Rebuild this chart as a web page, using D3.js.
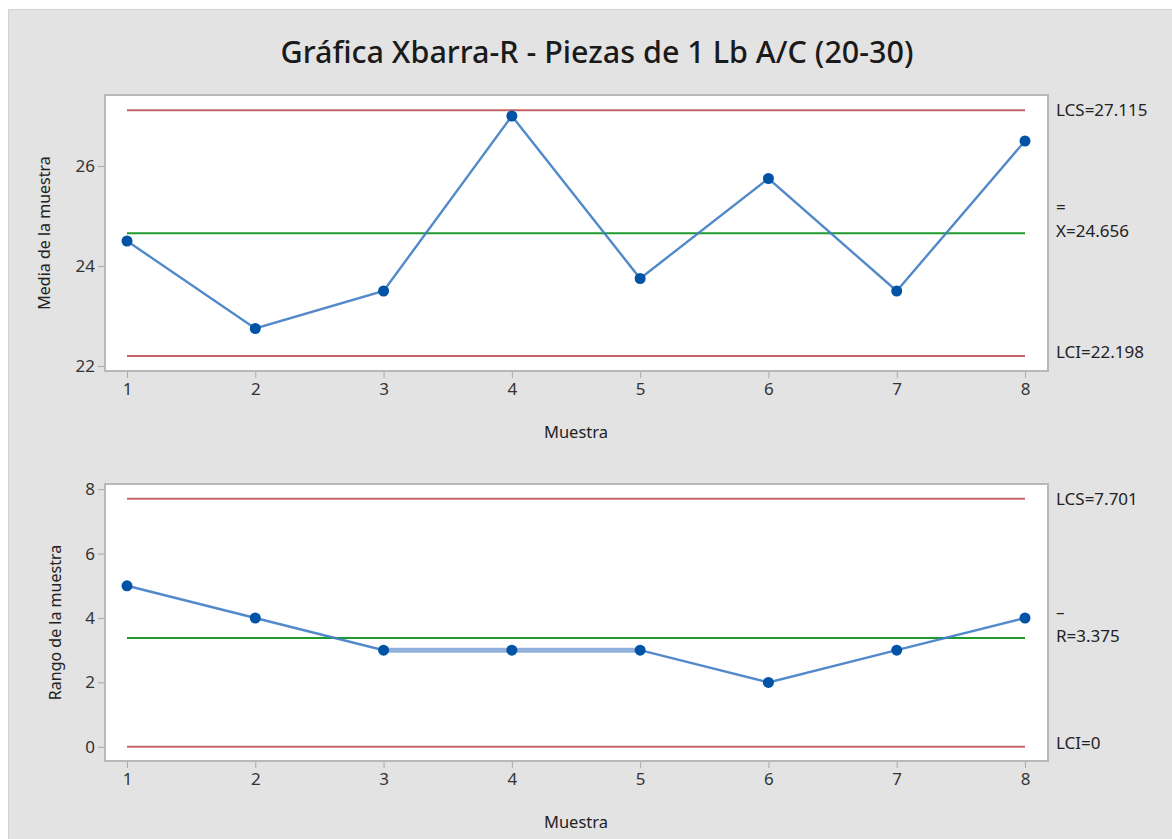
<!DOCTYPE html>
<html>
<head>
<meta charset="utf-8">
<script src="https://cdn.jsdelivr.net/npm/d3@7"></script>
<style>
  body { margin: 0; background: #ffffff; }
  svg text { font-family: "Noto Sans", "Open Sans", sans-serif; fill: #222; }
</style>
</head>
<body>
<svg id="chart" width="1172" height="839"></svg>
<script>
/* Data */
const muestras = [1, 2, 3, 4, 5, 6, 7, 8];
const medias = [24.5, 22.75, 23.5, 27.0, 23.75, 25.75, 23.5, 26.5];
const rangos = [5, 4, 3, 3, 3, 2, 3, 4];
const limitesX = { lcs: 27.115, centro: 24.656, lci: 22.198 };
const limitesR = { lcs: 7.701, centro: 3.375, lci: 0 };
const ticksMedia = [22, 24, 26];
const ticksRango = [0, 2, 4, 6, 8];

const svg = d3.select("#chart");

const colorLimite = "#c46464";
const colorCentro = "#1f9a2e";
const colorLinea = "#3f7cc4";
const colorPunto = "#0053a5";

/* background panel */
svg.append("rect")
    .attr("x", 8.5).attr("y", 9.5)
    .attr("width", 1180).attr("height", 840)
    .style("fill", "#e3e3e3")
    .style("stroke", "#d2d2d2");

/* title */
svg.append("text")
    .attr("x", 597)
    .attr("y", 63)
    .attr("text-anchor", "middle")
    .style("font-size", "30.5px")
    .style("font-weight", "500")
    .style("fill", "#1a1a1a")
    .text("Gráfica Xbarra-R - Piezas de 1 Lb A/C (20-30)");

const left = 105, right = 1048;

const x = d3.scaleLinear()
    .domain([1, 8])
    .range([127, 1025]);

/**
 * Draws one control chart panel
 */
function buildPanel(opts) {
    const y = d3.scaleLinear()
        .domain(opts.domain)
        .range([opts.bottom, opts.top]);

    /* plot area */
    svg.append("rect")
        .attr("x", left).attr("y", opts.top)
        .attr("width", right - left).attr("height", opts.bottom - opts.top)
        .style("fill", "#ffffff")
        .style("stroke", "#b8b8b8")
        .style("stroke-width", 2);

    /* y axis */
    const yAxis = d3.axisLeft(y)
        .tickValues(opts.ticks)
        .tickSize(6)
        .tickPadding(3)
        .tickFormat(d3.format("d"));
    const gy = svg.append("g")
        .attr("transform", "translate(" + (left - 1) + ",0)")
        .call(yAxis);
    gy.select(".domain").remove();
    gy.selectAll("line").style("stroke", "#aaa");
    gy.selectAll("text").style("font-size", "17px").style("fill", "#333");

    /* x axis */
    const xAxis = d3.axisBottom(x)
        .tickValues(muestras)
        .tickSize(6)
        .tickPadding(5)
        .tickFormat(d3.format("d"));
    const gx = svg.append("g")
        .attr("transform", "translate(0," + (opts.bottom + 1) + ")")
        .call(xAxis);
    gx.select(".domain").remove();
    gx.selectAll("line").style("stroke", "#aaa");
    gx.selectAll("text").style("font-size", "17px").style("fill", "#333");

    /* axis titles */
    svg.append("text")
        .attr("x", 576)
        .attr("y", opts.bottom + 67)
        .attr("text-anchor", "middle")
        .style("font-size", "16.5px")
        .text("Muestra");

    svg.append("text")
        .attr("transform", "translate(" + opts.labelX + "," + ((opts.top + opts.bottom) / 2) + ") rotate(-90)")
        .attr("text-anchor", "middle")
        .style("font-size", "16px")
        .text(opts.yLabel);

    /* control limits */
    const lims = [
        { v: opts.limits.lcs, c: colorLimite },
        { v: opts.limits.centro, c: colorCentro },
        { v: opts.limits.lci, c: colorLimite }
    ];
    svg.selectAll(".lim" + opts.id).data(lims)
        .enter()
        .append("line")
        .attr("class", "lim" + opts.id)
        .attr("x1", x(1)).attr("x2", x(8))
        .attr("y1", d => y(d.v)).attr("y2", d => y(d.v))
        .style("stroke", d => d.c)
        .style("stroke-width", 2);

    /* data line */
    const pts = muestras.map((m, i) => ({ m: m, v: opts.values[i] }));

    svg.append("path")
        .datum(pts)
        .attr("d", d3.line().x(d => x(d.m)).y(d => y(d.v)))
        .style("fill", "none")
        .style("stroke", colorLinea)
        .style("stroke-width", 2.4)
        .style("stroke-opacity", 0.9);

    // flat runs look thicker and paler in the original
    const flat = pts.slice(1).map((d, i) => [pts[i], d]).filter(s => s[0].v === s[1].v);
    svg.selectAll(".flat" + opts.id).data(flat)
        .enter()
        .append("line")
        .attr("class", "flat" + opts.id)
        .attr("x1", d => x(d[0].m)).attr("x2", d => x(d[1].m))
        .attr("y1", d => y(d[0].v)).attr("y2", d => y(d[1].v))
        .style("stroke", "#8fb1dc")
        .style("stroke-width", 5);

    svg.selectAll(".pt" + opts.id).data(pts)
        .enter()
        .append("circle")
        .attr("class", "pt" + opts.id)
        .attr("cx", d => x(d.m))
        .attr("cy", d => y(d.v))
        .attr("r", 5.5)
        .style("fill", colorPunto);

    /* limit labels on the right */
    const lx = 1056;
    const labels = svg.append("g").style("font-size", "17px");
    labels.append("text").attr("x", lx).attr("y", y(opts.limits.lcs) + 6).text("LCS=" + opts.lcsText);
    labels.append("text").attr("x", lx).attr("y", y(opts.limits.centro) - 20).text(opts.bar);
    labels.append("text").attr("x", lx).attr("y", y(opts.limits.centro) + 4).text(opts.centroText);
    labels.append("text").attr("x", lx).attr("y", y(opts.limits.lci) + 2).text("LCI=" + opts.lciText);
}

buildPanel({
    id: "x",
    top: 95, bottom: 371,
    domain: [21.9, 27.42],
    ticks: ticksMedia,
    values: medias,
    limits: limitesX,
    yLabel: "Media de la muestra",
    labelX: 50,
    lcsText: "27.115",
    bar: "=",
    centroText: "X=24.656",
    lciText: "22.198"
});

buildPanel({
    id: "r",
    top: 484, bottom: 761,
    domain: [-0.44, 8.16],
    ticks: ticksRango,
    values: rangos,
    limits: limitesR,
    yLabel: "Rango de la muestra",
    labelX: 61,
    lcsText: "7.701",
    bar: "–",
    centroText: "R=3.375",
    lciText: "0"
});
</script>
</body>
</html>
